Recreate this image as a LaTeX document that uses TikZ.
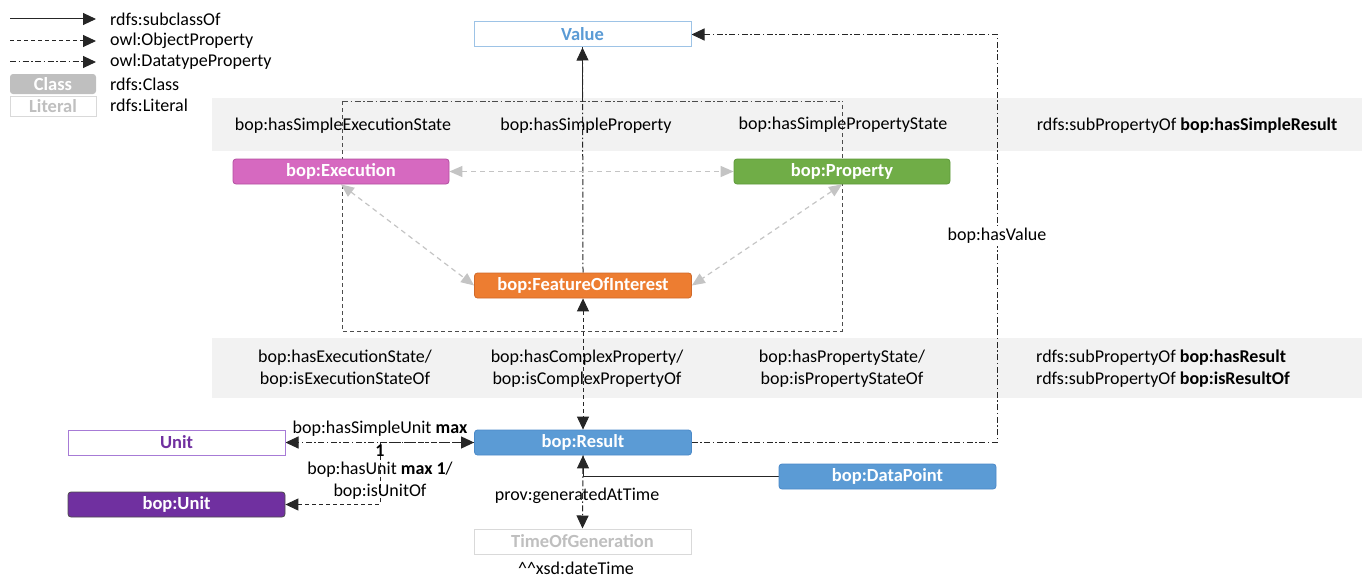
\documentclass[tikz,border=0pt]{standalone}
\usepackage{fontspec}
\setmainfont{Carlito}
\usetikzlibrary{arrows.meta}
\definecolor{valblue}{HTML}{5B9BD5}
\definecolor{valborder}{HTML}{9DC3E6}
\definecolor{execfill}{HTML}{D669C0}
\definecolor{execdraw}{HTML}{B24EA0}
\definecolor{propfill}{HTML}{70AD47}
\definecolor{propdraw}{HTML}{5E9A3A}
\definecolor{foifill}{HTML}{ED7D31}
\definecolor{foidraw}{HTML}{D0692A}
\definecolor{resdraw}{HTML}{4A89C8}
\definecolor{upurple}{HTML}{7030A0}
\definecolor{uborder}{HTML}{A77BD6}
\definecolor{bandgray}{HTML}{F2F2F2}
\definecolor{arrgray}{HTML}{C4C4C4}
\definecolor{litgray}{HTML}{BFBFBF}
\definecolor{litdraw}{HTML}{D9D9D9}
\definecolor{clsgray}{HTML}{BFBFBF}
\pgfdeclarelayer{bands}
\pgfdeclarelayer{lines}
\pgfsetlayers{bands,lines,main}
\tikzset{
  tip/.tip={Triangle[length=13pt,width=12pt]},
  gtip/.tip={Triangle[length=13pt,width=11pt]},
  lbl/.style={font=\fontsize{18}{22}\selectfont, inner sep=0, align=center},
  cls/.style={rounded corners=3pt, minimum width=217pt, minimum height=25pt, inner sep=0,
    font=\bfseries\fontsize{18.5}{20}\selectfont, text=white, line width=0.8pt},
  lit/.style={minimum width=217pt, minimum height=25pt, inner sep=0, fill=white,
    font=\bfseries\fontsize{18.5}{20}\selectfont, line width=1pt},
  subc/.style={draw=black!85, line width=1pt},
  objp/.style={draw=black!85, line width=1pt, dash pattern=on 4pt off 3pt},
  datp/.style={draw=black!85, line width=1pt, dash pattern=on 6pt off 2.5pt on 1.5pt off 2.5pt},
  fobj/.style={draw=black!70, line width=0.8pt, dash pattern=on 4pt off 3pt},
  fdat/.style={draw=black!70, line width=0.8pt, dash pattern=on 6pt off 2.5pt on 1.5pt off 2.5pt},
  gobj/.style={draw=arrgray, line width=1.2pt, dash pattern=on 5pt off 4pt},
}
\begin{document}
\begin{tikzpicture}[x=1pt,y=-1pt]
\useasboundingbox (0,0) rectangle (1367,578);
% bands
\begin{pgfonlayer}{bands}
\fill[bandgray] (212,98) rectangle (1362,151);
\fill[bandgray] (212,338) rectangle (1362,398);
\end{pgfonlayer}

% legend
\coordinate (l1a) at (10,19); \coordinate (l1b) at (96,19);
\coordinate (l2a) at (10,41); \coordinate (l2b) at (96,41);
\coordinate (l3a) at (10,62); \coordinate (l3b) at (96,62);
\draw[subc,-tip] (l1a) -- (l1b);
\draw[objp,-tip] (l2a) -- (l2b);
\draw[datp,-tip] (l3a) -- (l3b);
\node[lbl, anchor=west] (t1) at (110,19) {rdfs:subclassOf};
\node[lbl, anchor=west] (t2) at (110,41) {owl:ObjectProperty};
\node[lbl, anchor=west] (t3) at (110,62) {owl:DatatypeProperty};
\node[cls, fill=clsgray, minimum width=86pt, minimum height=20pt] (lcls) at (53,84) {Class};
\node[lit, draw=litdraw, text=litgray, minimum width=86pt, minimum height=20pt] (llit) at (53,106.5) {Literal};
\node[lbl, anchor=west] (t4) at (110,84) {rdfs:Class};
\node[lbl, anchor=west] (t5) at (110,105) {rdfs:Literal};

% class nodes
\node[lit, draw=valborder, text=valblue] (val) at (582.5,34.5) {Value};
\node[cls, fill=execfill, draw=execdraw, minimum width=216pt] (exe) at (341,171.5) {bop:Execution};
\node[cls, fill=propfill, draw=propdraw, minimum width=216pt] (prop) at (842,171.5) {bop:Property};
\node[cls, fill=foifill, draw=foidraw] (foi) at (583,285.5) {bop:FeatureOfInterest};
\node[lit, draw=uborder, text=upurple] (unit) at (176.5,442.5) {Unit};
\node[cls, fill=valblue, draw=resdraw] (res) at (583,442.5) {bop:Result};
\node[cls, fill=upurple, draw=black!70] (bunit) at (176.5,504.5) {bop:Unit};
\node[cls, fill=valblue, draw=resdraw] (dpt) at (887.5,476.5) {bop:DataPoint};
\node[lit, draw=litdraw, text=litgray] (tog) at (582.5,541.5) {TimeOfGeneration};

% band labels
\node[lbl] (b11) at (343,126) {bop:hasSimpleExecutionState};
\node[lbl] (b12) at (586,126) {bop:hasSimpleProperty};
\node[lbl] (b13) at (843,125) {bop:hasSimplePropertyState};
\node[lbl] (b14) at (1187,126) {rdfs:subPropertyOf \textbf{bop:hasSimpleResult}};
\node[lbl] (b21) at (345,369) {bop:hasExecutionState/\\bop:isExecutionStateOf};
\node[lbl] (b22) at (587,369) {bop:hasComplexProperty/\\bop:isComplexPropertyOf};
\node[lbl] (b23) at (842,369) {bop:hasPropertyState/\\bop:isPropertyStateOf};
\node[lbl, align=left, anchor=west] (b24) at (1036,369) {rdfs:subPropertyOf \textbf{bop:hasResult}\\rdfs:subPropertyOf \textbf{bop:isResultOf}};

% other labels
\node[lbl] (lsu) at (380,429) {bop:hasSimpleUnit \textbf{max}};
\node[lbl] (lone) at (380,451) {\textbf{1}};
\node[lbl] (lhu) at (380,470) {bop:hasUnit \textbf{max 1}/};
\node[lbl] (liu) at (380,492) {bop:isUnitOf};
\node[lbl] (lgen) at (577,496) {prov:generatedAtTime};
\node[lbl] (lxsd) at (576,568) {\textasciicircum\textasciicircum xsd:dateTime};

% coordinates
\coordinate (r1) at (997,442.5);
\coordinate (r2) at (997,34.5);
\coordinate (u1) at (380,442.5);
\coordinate (u2) at (380,504.5);
\coordinate (rtl) at (342,101);
\coordinate (rtr) at (842,101);
\coordinate (rbl) at (342,331);
\coordinate (rbr) at (842,331);
\coordinate (vs) at (582.5,101);

\node[lbl, fill=white, inner ysep=2pt] (lhv) at (997,236) {bop:hasValue};

\begin{pgfonlayer}{lines}
% dashed group frame
\draw[fdat] (rtl) -- (rtr);
\draw[fobj] (rtl) -- (rbl) -- (rbr) -- (rtr);
% Result -> Value (vertical)
\draw[datp,-tip] (foi.north) -- (val.south);
\draw[subc] (val.south) -- (vs);
% FoI <-> Result
\draw[objp,tip-tip] (foi.south) -- (res.north);
% gray object properties
\draw[gobj,gtip-gtip] (exe.east) -- (prop.west);
\draw[gobj,gtip-gtip] (exe.south) -- (foi.west);
\draw[gobj,gtip-gtip] (prop.south) -- (foi.east);
% Result -> TimeOfGeneration
\draw[datp,-tip] (res.south) -- (tog.north);
% DataPoint subclassOf Result
\draw[subc,-tip] (dpt.west) -| (res.south);
% Result hasValue Value
\draw[datp,-tip] (res.east) -- (r1) -- (r2) -- (val.east);
% Units
\draw[datp,-tip] (res.west) -- (unit.east);
\draw[objp,tip-tip] (bunit.east) -- (u2) -- (u1) -- (res.west);
\end{pgfonlayer}
\end{tikzpicture}
\end{document}
